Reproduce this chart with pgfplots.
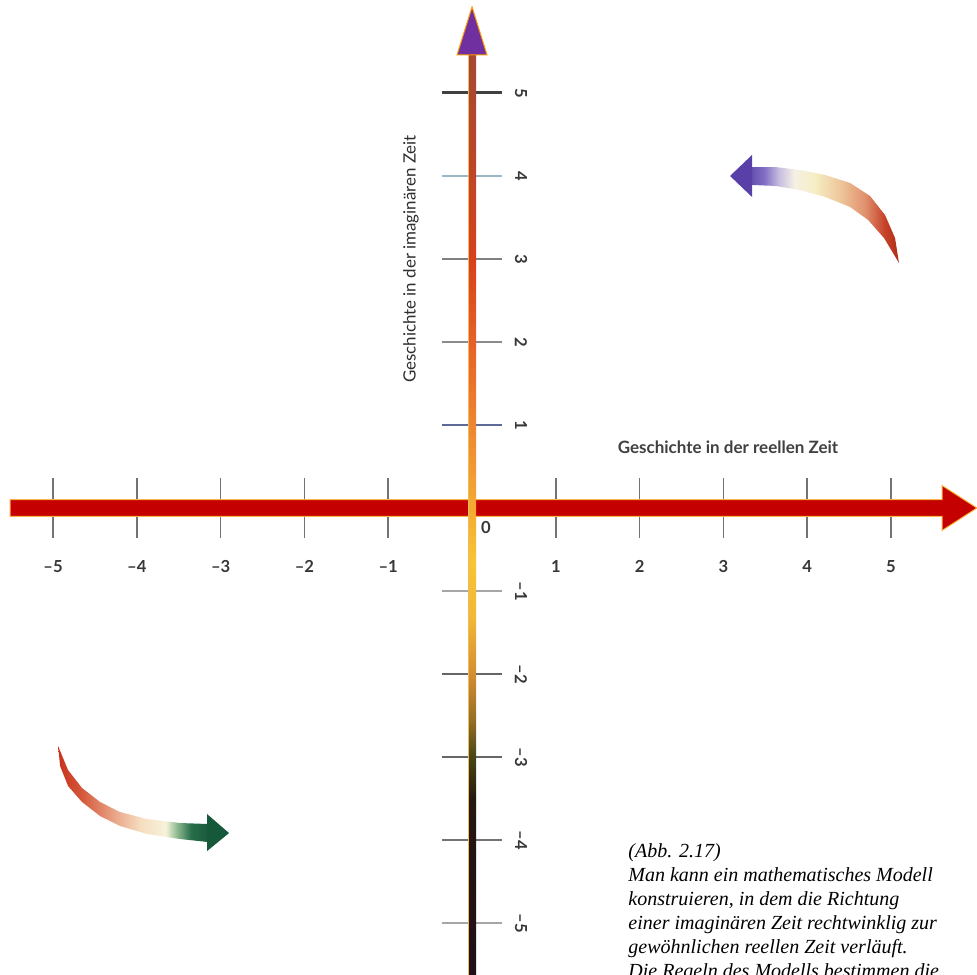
\documentclass[border=0pt]{standalone}
\usepackage{pgfplots}
\pgfplotsset{compat=1.18}
\usepackage{fontspec}
\setmainfont{Lato}
\newfontfamily\capfont{Liberation Serif}

\definecolor{barred}{RGB}{196,0,0}
\definecolor{baredge}{RGB}{250,180,70}
\definecolor{headpurple}{RGB}{112,48,160}
\definecolor{headgreen}{RGB}{22,88,58}
\definecolor{curlpurple}{RGB}{88,64,168}
\definecolor{ticklab}{RGB}{55,55,55}
\definecolor{tickgray}{RGB}{115,115,115}

% shaft colours, bottom to top
\definecolor{s0}{RGB}{32,14,24}
\definecolor{s1}{RGB}{38,22,16}
\definecolor{s2}{RGB}{72,70,22}
\definecolor{s3}{RGB}{150,110,40}
\definecolor{s4}{RGB}{212,140,50}
\definecolor{s5}{RGB}{242,182,52}
\definecolor{s6}{RGB}{248,196,52}
\definecolor{s7}{RGB}{245,170,50}
\definecolor{s8}{RGB}{240,140,50}
\definecolor{s9}{RGB}{232,100,40}
\definecolor{s10}{RGB}{215,65,30}
\definecolor{s11}{RGB}{185,70,42}
\definecolor{s12}{RGB}{165,72,52}
\pgfdeclareverticalshading{shaft}{100bp}{color(0bp)=(s0); color(25.4bp)=(s0);
  color(34.8bp)=(s1); color(37.1bp)=(s2); color(39.1bp)=(s3); color(41.5bp)=(s4);
  color(44.5bp)=(s5); color(47.7bp)=(s6); color(50.5bp)=(s7); color(54.2bp)=(s8);
  color(59bp)=(s9); color(63.9bp)=(s10); color(69.9bp)=(s11); color(75bp)=(s12);
  color(100bp)=(s12)}

% upper right curl, left to right
\definecolor{p0}{RGB}{100,80,175}
\definecolor{p1}{RGB}{130,110,195}
\definecolor{p2}{RGB}{200,190,225}
\definecolor{p3}{RGB}{245,240,228}
\definecolor{p4}{RGB}{246,238,196}
\definecolor{p5}{RGB}{238,200,155}
\definecolor{p6}{RGB}{225,145,110}
\definecolor{p7}{RGB}{198,65,40}
\definecolor{p8}{RGB}{175,45,25}
\pgfdeclarehorizontalshading{curlpurple}{100bp}{color(0bp)=(p0); color(25bp)=(p0);
  color(29.4bp)=(p1); color(34.5bp)=(p2); color(39.6bp)=(p3); color(46.4bp)=(p4);
  color(54.9bp)=(p5); color(63.4bp)=(p6); color(70.2bp)=(p7); color(75bp)=(p8);
  color(100bp)=(p8)}

% lower left curl, left to right
\definecolor{g0}{RGB}{200,50,30}
\definecolor{g1}{RGB}{212,85,55}
\definecolor{g2}{RGB}{232,155,125}
\definecolor{g3}{RGB}{246,222,192}
\definecolor{g4}{RGB}{246,242,218}
\definecolor{g5}{RGB}{150,190,150}
\definecolor{g6}{RGB}{40,110,75}
\definecolor{g7}{RGB}{25,90,60}
\pgfdeclarehorizontalshading{curlgreen}{100bp}{color(0bp)=(g0); color(25bp)=(g0);
  color(32.4bp)=(g1); color(42.4bp)=(g2); color(52.5bp)=(g3); color(60.9bp)=(g4);
  color(64.3bp)=(g5); color(69.3bp)=(g6); color(75bp)=(g7); color(100bp)=(g7)}

\tikzset{
  ticklbl/.style={font=\fontsize{8.3}{10}\selectfont\bfseries, text=ticklab},
  yticklbl/.style={ticklbl, rotate=-90},
  caplbl/.style={anchor=base west, inner sep=0pt,
    font=\capfont\itshape\fontsize{10}{12}\selectfont, text=black},
}

\begin{document}
\begin{tikzpicture}
\begin{axis}[
    scale only axis,
    width=488.5pt, height=487pt,
    xmin=-5.633, xmax=6.026,
    ymin=-5.614, ymax=6.120,
    hide axis,
    clip=true,
]
% ticks of the real time axis
\pgfplotsinvokeforeach{-5,-4,-3,-2,-1,1,2,3,4,5}{
  \addplot[tickgray, line width=0.8pt] coordinates {(#1,-0.36) (#1,0.36)};
}
% ticks of the imaginary time axis
\addplot[black!75, line width=1.5pt] coordinates {(-0.36,5) (0.36,5)};
\addplot[color={rgb,255:red,150;green,185;blue,195}, line width=1pt] coordinates {(-0.36,4) (0.36,4)};
\addplot[black!50, line width=0.9pt] coordinates {(-0.36,3) (0.36,3)};
\addplot[black!45, line width=0.9pt] coordinates {(-0.36,2) (0.36,2)};
\addplot[color={rgb,255:red,95;green,105;blue,150}, line width=1.2pt] coordinates {(-0.36,1) (0.36,1)};
\addplot[black!35, line width=0.9pt] coordinates {(-0.36,-1) (0.36,-1)};
\addplot[black!60, line width=0.9pt] coordinates {(-0.36,-2) (0.36,-2)};
\addplot[black!60, line width=0.9pt] coordinates {(-0.36,-3) (0.36,-3)};
\addplot[black!55, line width=0.9pt] coordinates {(-0.36,-4) (0.36,-4)};
\addplot[black!35, line width=0.9pt] coordinates {(-0.36,-5) (0.36,-5)};

% real time arrow
\addplot[fill=barred, draw=baredge, line width=0.5pt] coordinates {
  (-5.513,-0.102) (5.609,-0.102) (5.609,-0.271) (6.026,0)
  (5.609,0.271) (5.609,0.102) (-5.513,0.102)} -- cycle;

% imaginary time arrow
\addplot[shade, shading=shaft, draw=none] coordinates {
  (-0.048,-5.7) (0.048,-5.7) (0.048,5.47) (-0.048,5.47)} -- cycle;
\addplot[color={rgb,255:red,235;green,190;blue,90}, line width=0.3pt] coordinates {(-0.05,-5.7) (-0.05,5.46)};
\addplot[fill=headpurple, draw=orange!80!yellow, line width=0.5pt] coordinates {
  (-0.179,5.458) (0,6.036) (0.179,5.458)} -- cycle;

% upper right curl
\addplot[shade, shading=curlpurple, draw=none] coordinates {
  (3.33,4.108) (3.616,4.108) (3.914,4.072) (4.212,4.012) (4.511,3.916)
  (4.749,3.759) (4.928,3.530) (5.048,3.253) (5.095,2.952)
  (4.916,3.253) (4.726,3.470) (4.511,3.627) (4.212,3.747) (3.914,3.831)
  (3.616,3.880) (3.33,3.892)} -- cycle;
\addplot[fill=curlpurple, draw=none] coordinates {
  (3.341,4.253) (3.079,4.0) (3.341,3.747)} -- cycle;

% lower left curl
\addplot[shade, shading=curlgreen, draw=none] coordinates {
  (-4.940,-2.867) (-4.821,-3.157) (-4.654,-3.373) (-4.439,-3.542)
  (-4.200,-3.663) (-3.878,-3.747) (-3.484,-3.795) (-3.15,-3.807)
  (-3.15,-4.024) (-3.484,-3.988) (-3.878,-3.928) (-4.200,-3.831)
  (-4.439,-3.711) (-4.654,-3.542) (-4.821,-3.349) (-4.916,-3.108)} -- cycle;
\addplot[fill=headgreen, draw=none] coordinates {
  (-3.162,-3.687) (-2.900,-3.916) (-3.162,-4.133)} -- cycle;

% tick labels
\node[ticklbl] at (-5,-0.70) {–5};
\node[ticklbl] at (-4,-0.70) {–4};
\node[ticklbl] at (-3,-0.70) {–3};
\node[ticklbl] at (-2,-0.70) {–2};
\node[ticklbl] at (-1,-0.70) {–1};
\node[ticklbl] at (1,-0.70) {1};
\node[ticklbl] at (2,-0.70) {2};
\node[ticklbl] at (3,-0.70) {3};
\node[ticklbl] at (4,-0.70) {4};
\node[ticklbl] at (5,-0.70) {5};
\node[ticklbl] at (0.167,-0.229) {0};
\node[yticklbl] at (0.585,5) {5};
\node[yticklbl] at (0.585,4) {4};
\node[yticklbl] at (0.585,3) {3};
\node[yticklbl] at (0.585,2) {2};
\node[yticklbl] at (0.585,1) {1};
\node[yticklbl] at (0.585,-1) {–1};
\node[yticklbl] at (0.585,-2) {–2};
\node[yticklbl] at (0.585,-3) {–3};
\node[yticklbl] at (0.585,-4) {–4};
\node[yticklbl] at (0.585,-5) {–5};

% axis titles
\node[font=\fontsize{8.5}{10}\selectfont\bfseries, text=black!75] at (3.055,0.735)
  {Geschichte in der reellen Zeit};
\node[font=\fontsize{8.45}{10}\selectfont, text=black!82, rotate=90] at (-0.728,3.0)
  {Geschichte in der imaginären Zeit};

% caption
\node[caplbl] at (1.862,-4.205) {(Abb. 2.17)};
\node[caplbl] at (1.862,-4.494) {Man kann ein mathematisches Modell};
\node[caplbl] at (1.862,-4.783) {konstruieren, in dem die Richtung};
\node[caplbl] at (1.862,-5.072) {einer imaginären Zeit rechtwinklig zur};
\node[caplbl] at (1.862,-5.361) {gewöhnlichen reellen Zeit verläuft.};
\node[caplbl] at (1.862,-5.651) {Die Regeln des Modells bestimmen die};
\end{axis}
\pgfresetboundingbox
\useasboundingbox (current axis.south west) rectangle (current axis.north east);
\end{tikzpicture}
\end{document}
